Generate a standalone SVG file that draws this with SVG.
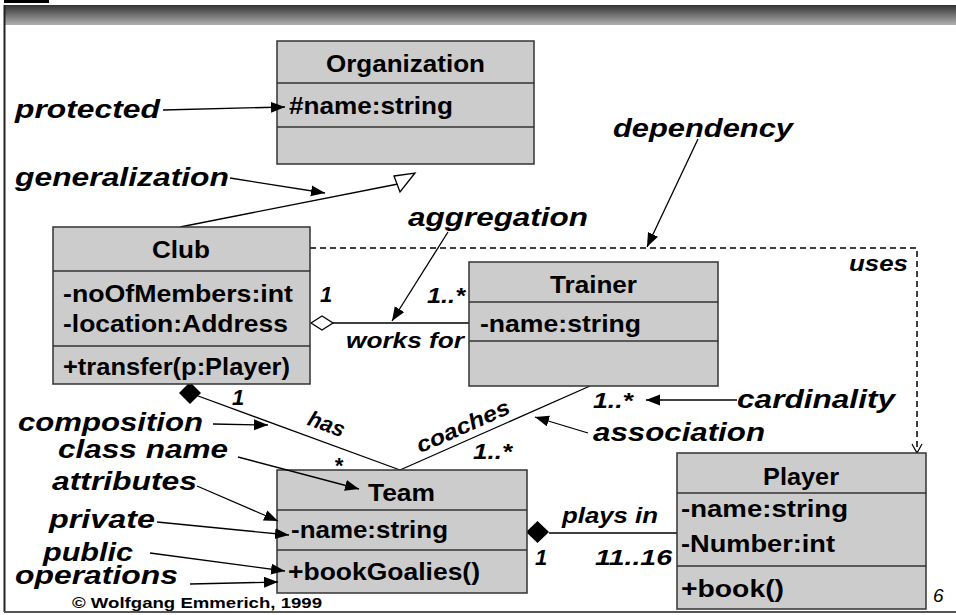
<svg xmlns="http://www.w3.org/2000/svg" width="956" height="615" viewBox="0 0 956 615">
<defs>
<linearGradient id="hdr" x1="0" y1="0" x2="0" y2="1">
<stop offset="0" stop-color="#333333"/>
<stop offset="1" stop-color="#b0b0b0"/>
</linearGradient>
<marker id="ah" markerUnits="userSpaceOnUse" markerWidth="16" markerHeight="12" refX="14" refY="5.5" orient="auto">
<path d="M0,0 L14,5.5 L0,11 z" fill="#000"/>
</marker>
<style>
.box{fill:#cccccc;stroke:#333333;stroke-width:1.5}
.sep{stroke:#333333;stroke-width:1.5}
.cls{font-family:"Liberation Sans",Arial,sans-serif;font-weight:bold;font-size:24px;fill:#000}
.lbl{font-family:"Liberation Sans",Arial,sans-serif;font-weight:bold;font-style:italic;font-size:26px;fill:#000}
.sm{font-family:"Liberation Sans",Arial,sans-serif;font-weight:bold;font-style:italic;font-size:22px;fill:#000}
.ln{stroke:#000;stroke-width:1.3;fill:none}
.ptr{stroke:#000;stroke-width:1.3;fill:none;marker-end:url(#ah)}
.dash{stroke:#000;stroke-width:1.5;fill:none;stroke-dasharray:6 4}
</style>
</defs>
<rect width="956" height="615" fill="#fff"/>
<!-- frame -->
<rect x="4" y="0" width="45" height="3" fill="#000"/>
<rect x="4" y="5" width="952" height="20" fill="url(#hdr)"/>
<line x1="4.5" y1="5" x2="4.5" y2="612" stroke="#222" stroke-width="2"/>
<line x1="4" y1="612" x2="956" y2="612" stroke="#555" stroke-width="2"/>

<!-- connectors -->
<g id="connectors">
<line class="ln" x1="180" y1="227" x2="398" y2="184"/>
<polygon points="394,176 415,173 400,192" fill="#fff" stroke="#000" stroke-width="1.3"/>
<line class="ln" x1="333" y1="323" x2="469" y2="323"/>
<polygon points="311,323 322,316 333,323 322,330" fill="#fff" stroke="#000" stroke-width="1.3"/>
<line class="ln" x1="190" y1="393" x2="400" y2="470"/>
<line class="ln" x1="400" y1="470" x2="590" y2="386"/>
<polygon points="190,382 201,393 190,404 179,393" fill="#000"/>
<line class="ln" x1="549" y1="533" x2="677" y2="533"/>
<polygon points="526,532 537.5,521 549,532 537.5,543" fill="#000"/>
<path class="dash" d="M310,248 H917 V452"/>
<path d="M912,444 L917,453 L922,444" fill="none" stroke="#000" stroke-width="1.2"/>
</g>

<!-- nodes -->
<g id="organization">
<rect class="box" x="277" y="41" width="257" height="123"/>
<line class="sep" x1="277" y1="83" x2="534" y2="83"/>
<line class="sep" x1="277" y1="127" x2="534" y2="127"/>
<text class="cls" x="326" y="72" textLength="159" lengthAdjust="spacingAndGlyphs">Organization</text>
<text class="cls" x="289" y="114" textLength="164" lengthAdjust="spacingAndGlyphs">#name:string</text>
</g>
<g id="club">
<rect class="box" x="53" y="227" width="257" height="157"/>
<line class="sep" x1="53" y1="271" x2="310" y2="271"/>
<line class="sep" x1="53" y1="346" x2="310" y2="346"/>
<text class="cls" x="152" y="258" textLength="58" lengthAdjust="spacingAndGlyphs">Club</text>
<text class="cls" x="63" y="302" textLength="230" lengthAdjust="spacingAndGlyphs">-noOfMembers:int</text>
<text class="cls" x="63" y="332" textLength="225" lengthAdjust="spacingAndGlyphs">-location:Address</text>
<text class="cls" x="63" y="375" textLength="227" lengthAdjust="spacingAndGlyphs">+transfer(p:Player)</text>
</g>
<g id="trainer">
<rect class="box" x="469" y="262" width="249" height="124"/>
<line class="sep" x1="469" y1="302" x2="718" y2="302"/>
<line class="sep" x1="469" y1="341" x2="718" y2="341"/>
<text class="cls" x="550" y="293" textLength="87" lengthAdjust="spacingAndGlyphs">Trainer</text>
<text class="cls" x="480" y="332" textLength="161" lengthAdjust="spacingAndGlyphs">-name:string</text>
</g>
<g id="team">
<rect class="box" x="277" y="470" width="250" height="123"/>
<line class="sep" x1="277" y1="510" x2="527" y2="510"/>
<line class="sep" x1="277" y1="550" x2="527" y2="550"/>
<text class="cls" x="368" y="501" textLength="67" lengthAdjust="spacingAndGlyphs">Team</text>
<text class="cls" x="291" y="538" textLength="157" lengthAdjust="spacingAndGlyphs">-name:string</text>
<text class="cls" x="288" y="580" textLength="192" lengthAdjust="spacingAndGlyphs">+bookGoalies()</text>
</g>
<g id="player">
<rect class="box" x="677" y="453" width="249" height="156"/>
<line class="sep" x1="677" y1="493" x2="926" y2="493"/>
<line class="sep" x1="677" y1="566" x2="926" y2="566"/>
<text class="cls" x="763" y="485" textLength="76" lengthAdjust="spacingAndGlyphs">Player</text>
<text class="cls" x="681" y="517" textLength="167" lengthAdjust="spacingAndGlyphs">-name:string</text>
<text class="cls" x="681" y="552" textLength="154" lengthAdjust="spacingAndGlyphs">-Number:int</text>
<text class="cls" x="681" y="597" textLength="103" lengthAdjust="spacingAndGlyphs">+book()</text>
</g>

<!-- annotation pointers (drawn over the boxes) -->
<g id="pointers">
<line class="ptr" x1="163" y1="110" x2="285" y2="107"/>
<line class="ptr" x1="230" y1="178" x2="325" y2="193"/>
<line class="ptr" x1="698" y1="139" x2="647" y2="247"/>
<line class="ptr" x1="448" y1="232" x2="392" y2="321"/>
<line class="ptr" x1="737" y1="400" x2="646" y2="400"/>
<line class="ptr" x1="588" y1="433" x2="535" y2="417"/>
<line class="ptr" x1="213" y1="424" x2="268" y2="425"/>
<line class="ptr" x1="238" y1="457" x2="359" y2="489"/>
<line class="ptr" x1="197" y1="486" x2="278" y2="521"/>
<line class="ptr" x1="157" y1="522" x2="289" y2="535"/>
<line class="ptr" x1="150" y1="553" x2="285" y2="571"/>
<line class="ptr" x1="190" y1="584" x2="278" y2="582"/>
</g>

<!-- annotation labels -->
<g id="labels">
<text class="lbl" x="15" y="118" textLength="145" lengthAdjust="spacingAndGlyphs">protected</text>
<text class="lbl" x="15" y="186" textLength="214" lengthAdjust="spacingAndGlyphs">generalization</text>
<text class="lbl" x="613" y="137" textLength="180" lengthAdjust="spacingAndGlyphs">dependency</text>
<text class="lbl" x="408" y="226" textLength="180" lengthAdjust="spacingAndGlyphs">aggregation</text>
<text class="lbl" x="18" y="431" textLength="185" lengthAdjust="spacingAndGlyphs">composition</text>
<text class="lbl" x="58" y="458" textLength="170" lengthAdjust="spacingAndGlyphs">class name</text>
<text class="lbl" x="52" y="490" textLength="145" lengthAdjust="spacingAndGlyphs">attributes</text>
<text class="lbl" x="49" y="528" textLength="106" lengthAdjust="spacingAndGlyphs">private</text>
<text class="lbl" x="43" y="561" textLength="90" lengthAdjust="spacingAndGlyphs">public</text>
<text class="lbl" x="15" y="584" textLength="163" lengthAdjust="spacingAndGlyphs">operations</text>
<text class="lbl" x="737" y="408" textLength="158" lengthAdjust="spacingAndGlyphs">cardinality</text>
<text class="lbl" x="593" y="441" textLength="172" lengthAdjust="spacingAndGlyphs">association</text>
<text class="sm" x="849" y="271" textLength="59" lengthAdjust="spacingAndGlyphs">uses</text>
<text class="sm" x="320" y="302">1</text>
<text class="sm" x="427" y="303" textLength="38" lengthAdjust="spacingAndGlyphs">1..*</text>
<text class="sm" x="346" y="348" textLength="118" lengthAdjust="spacingAndGlyphs">works for</text>
<text class="sm" x="232" y="405">1</text>
<text class="sm" x="324" y="431" text-anchor="middle" transform="rotate(20 324 431)">has</text>
<text class="sm" x="334" y="473">*</text>
<text class="sm" x="466" y="433" text-anchor="middle" transform="rotate(-24 466 433)" textLength="100" lengthAdjust="spacingAndGlyphs">coaches</text>
<text class="sm" x="473" y="459" textLength="39" lengthAdjust="spacingAndGlyphs">1..*</text>
<text class="sm" x="593" y="408" textLength="40" lengthAdjust="spacingAndGlyphs">1..*</text>
<text class="sm" x="562" y="523" textLength="96" lengthAdjust="spacingAndGlyphs">plays in</text>
<text class="sm" x="535" y="565">1</text>
<text class="sm" x="595" y="565" textLength="77" lengthAdjust="spacingAndGlyphs">11..16</text>
<text x="933" y="602" style="font-family:'Liberation Sans',Arial,sans-serif;font-style:italic;font-size:19px">6</text>
<text x="72" y="608" textLength="250" lengthAdjust="spacingAndGlyphs" style="font-family:'Liberation Sans',Arial,sans-serif;font-weight:bold;font-size:15px">© Wolfgang Emmerich, 1999</text>
</g>
</svg>
